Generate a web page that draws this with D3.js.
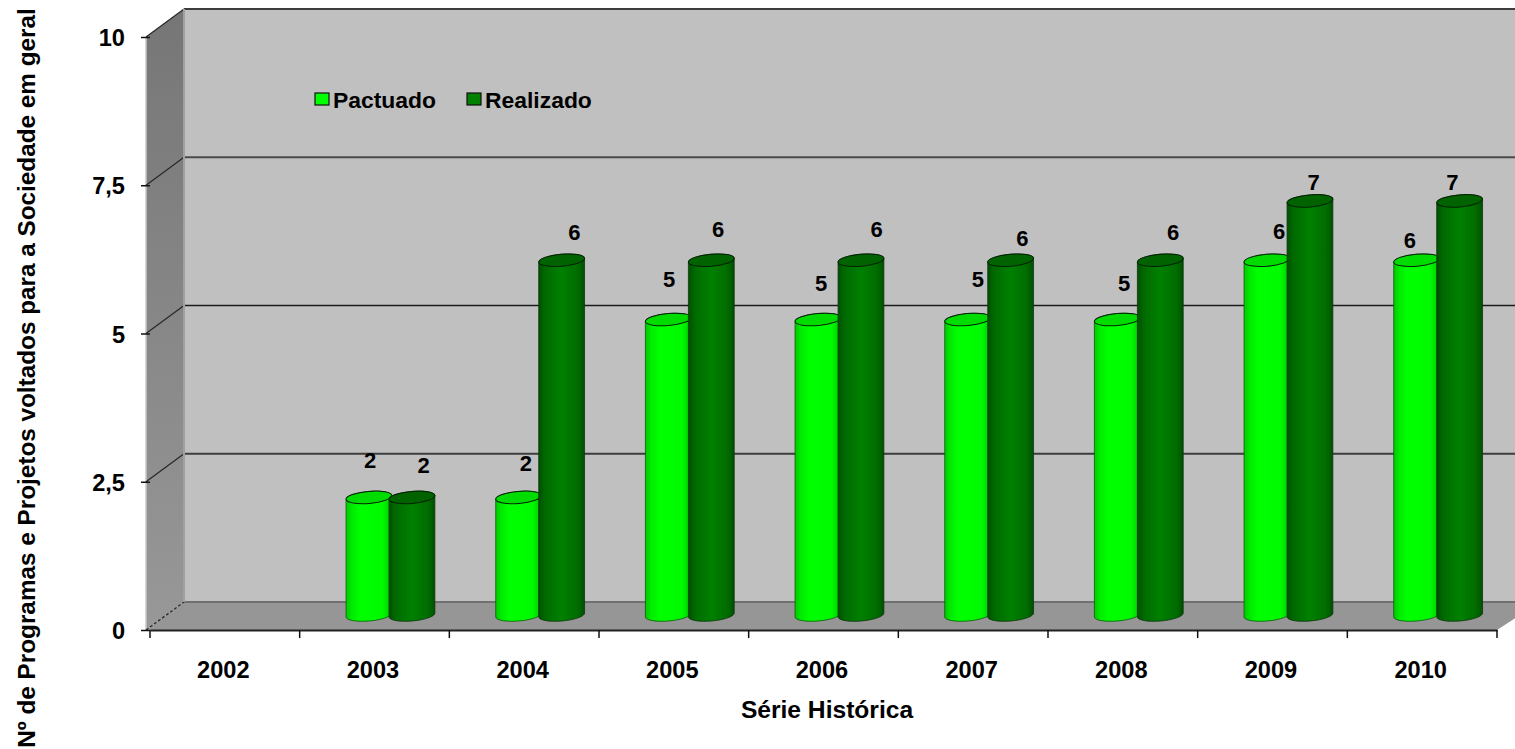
<!DOCTYPE html>
<html><head><meta charset="utf-8">
<script src="https://cdn.jsdelivr.net/npm/d3@7"></script>
<style>html,body{margin:0;padding:0;background:#fff;overflow:hidden}svg{display:block}
text{font-family:"Liberation Sans",Arial,sans-serif;font-weight:bold;fill:#000}</style>
</head><body><svg id="c" width="1515" height="749"></svg>
<script>
const categories=["2002","2003","2004","2005","2006","2007","2008","2009","2010"];
const pactuado=[null,2,2,5,5,5,5,6,6];
const realizado=[null,2,6,6,6,6,6,7,7];
const yTicks=[0,2.5,5,7.5,10];
// hand-placed data label nudges of the original chart (px from bar centre / value height)
const pactuadoNudgeX=[0,2,8,1.5,4,11,7.5,13,-6];
const pactuadoNudgeY=[0,-43,-40,-47,-43,-47,-43,-35,-26];
const realizadoNudgeX=[0,12,13,7,16,12,13,4,-7];
const realizadoNudgeY=[0,-38,-34,-37,-37,-28,-34,-25,-25];

const W=1515,H=749,x0=150,x1=1497,yB=630,yT=37,dx=34,dy=28;
const svg=d3.select("#c");
const defs=svg.append("defs");
function grad(id,stops,x2,y2){const g=defs.append("linearGradient").attr("id",id).attr("x1",0).attr("y1",0).attr("x2",x2).attr("y2",y2);
 stops.forEach(s=>g.append("stop").attr("offset",s[0]).attr("stop-color",s[1]));}
grad("cL",[[0,"#00c800"],[.12,"#00ea00"],[.3,"#00ff00"],[.8,"#00fa00"],[.95,"#00d400"],[1,"#00b800"]],1,0);
grad("cD",[[0,"#005000"],[.14,"#006a00"],[.5,"#008000"],[.85,"#006c00"],[1,"#005000"]],1,0);
grad("side",[[0,"#767676"],[1,"#989898"]],0,1);
const soft=defs.append("filter").attr("id","soft").attr("x","-5%").attr("y","-5%").attr("width","110%").attr("height","110%");
soft.append("feGaussianBlur").attr("stdDeviation",0.6);

const x=d3.scaleBand().domain(categories).range([x0,x1]);
const y=d3.scaleLinear().domain([0,10]).range([yB,yT]);
const root=svg.append("g").attr("filter","url(#soft)");

// walls
const line=d3.line();
root.append("path").attr("d",line([[x0+dx,y(10)-dy],[W+5,y(10)-dy],[W+5,yB-dy],[x0+dx,yB-dy]])+"Z").attr("fill","#c0c0c0");
root.append("path").attr("d",line([[x0-4,y(10)],[x0+dx,y(10)-dy],[x0+dx,yB-dy],[x0-4,yB]])+"Z").attr("fill","url(#side)");
root.append("path").attr("d",line([[x0-4,yB],[x0+dx,yB-dy],[W+5,yB-dy],[W+5,yB-dy+13],[x1,yB]])+"Z").attr("fill","#969696");
root.append("line").attr("x1",x0-4).attr("x2",x0-4).attr("y1",y(10)).attr("y2",yB).attr("stroke","#c8c8c8").attr("stroke-width",1.5);

// gridlines
const gridColor={0:"#707070",2.5:"#3c3c3c",5:"#1c1c1c",7.5:"#4a4a4a",10:"#3c3c3c"};
yTicks.forEach(t=>{
 const yy=y(t);
 root.append("line").attr("x1",x0+dx).attr("x2",W+5).attr("y1",yy-dy).attr("y2",yy-dy).attr("stroke",gridColor[t]).attr("stroke-width",t===5?1.5:2.2);
 root.append("line").attr("x1",x0-4).attr("x2",x0+dx).attr("y1",yy).attr("y2",yy-dy).attr("stroke","#2a2a2a").attr("stroke-width",1.3).attr("stroke-dasharray",t===0?"3 2":null);
});
root.append("line").attr("x1",x0+dx).attr("x2",x0+dx).attr("y1",y(10)-dy).attr("y2",yB-dy).attr("stroke","#a0a0a0").attr("stroke-width",2);

// cylinders
const rx=23,ry=6,tilt=-5,rad=tilt*Math.PI/180;
function cyl(cx,v,fill,topFill,edge){
 const top=y(v)-14, bot=yB-15;
 const sx=rx*Math.cos(rad), sy=rx*Math.sin(rad);
 const g=root.append("g");
 const d=`M${cx-sx},${top-sy} L${cx-sx},${bot-sy} A${rx},${ry} ${tilt} 0 0 ${cx+sx},${bot+sy} L${cx+sx},${top+sy} A${rx},${ry} ${tilt} 0 0 ${cx-sx},${top-sy}Z`;
 g.append("path").attr("d",d).attr("fill",fill).attr("stroke",edge).attr("stroke-width",.8);
 g.append("ellipse").attr("rx",rx).attr("ry",ry).attr("transform",`translate(${cx},${top}) rotate(${tilt})`).attr("fill",topFill).attr("stroke","#062006").attr("stroke-width",1);
}
const offL=69.3, offR=112.3;
categories.forEach((c,i)=>{
 if(pactuado[i]!=null) cyl(x(c)+offL,pactuado[i],"url(#cL)","#00dc00","#0a5a0a");
 if(realizado[i]!=null) cyl(x(c)+offR,realizado[i],"url(#cD)","#006400","#123512");
});
categories.forEach((c,i)=>{
 if(pactuado[i]!=null) svg.append("text").attr("x",x(c)+offL-.8+pactuadoNudgeX[i]).attr("y",y(pactuado[i])+pactuadoNudgeY[i]).attr("text-anchor","middle").style("font-size","22px").text(pactuado[i]);
 if(realizado[i]!=null) svg.append("text").attr("x",x(c)+offR-.3+realizadoNudgeX[i]).attr("y",y(realizado[i])+realizadoNudgeY[i]).attr("text-anchor","middle").style("font-size","22px").text(realizado[i]);
});

// axes
const ax=svg.append("g").attr("transform",`translate(0,${yB})`).call(d3.axisBottom(x).tickSize(0));
ax.select(".domain").attr("stroke","#222").attr("stroke-width",2);
ax.selectAll("text").style("font-size","23.6px").style("font-family",'"Liberation Sans"').attr("dy",0).attr("y",48).attr("dx",-1.5);
[...categories.map(c=>x(c)),x1].forEach(p=>svg.append("line").attr("x1",p).attr("x2",p).attr("y1",yB).attr("y2",yB+8).attr("stroke","#111").attr("stroke-width",1.5));
const ay=svg.append("g").attr("transform",`translate(${x0},0)`).call(d3.axisLeft(y).tickValues(yTicks).tickSize(9).tickPadding(16).tickFormat(d=>String(d).replace(".",",")));
ay.select(".domain").remove();
ay.selectAll("line").attr("stroke","#111").attr("stroke-width",1.5);
ay.selectAll("text").style("font-size","23.6px").style("font-family",'"Liberation Sans"').attr("dy","0.36em");

// titles
svg.append("text").attr("x",827).attr("y",718).attr("text-anchor","middle").style("font-size","24.6px").text("Série Histórica");
svg.append("text").attr("transform","translate(35,378) rotate(-90)").attr("text-anchor","middle").style("font-size","24.3px").text("Nº de Programas e Projetos voltados para a Sociedade em geral");

// legend
const legendNames=["Pactuado","Realizado"];
const legendFill=["#00ff00","#008000"];
const legendX=[315,467];
legendNames.forEach((n,i)=>{
 svg.append("rect").attr("x",legendX[i]).attr("y",93).attr("width",14).attr("height",12).attr("fill",legendFill[i]).attr("stroke","#111").attr("stroke-width",1.2);
 svg.append("text").attr("x",legendX[i]+18).attr("y",108).style("font-size","22.9px").text(n);
});
</script></body></html>
